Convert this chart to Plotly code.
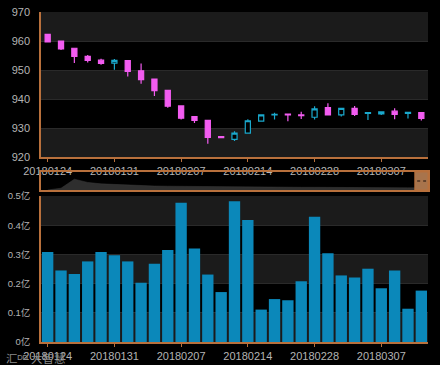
import plotly.graph_objects as go

dates = ["20180124","20180125","20180126","20180129","20180130","20180131",
         "20180201","20180202","20180205","20180206","20180207",
         "20180208","20180209","20180212","20180213","20180214",
         "20180222","20180223","20180226","20180227","20180228",
         "20180301","20180302","20180305","20180306","20180307",
         "20180308","20180309","20180312"]
open_ = [962.3, 960.0, 957.5, 954.7, 953.4, 952.4, 953.2, 949.7, 946.9, 943.0, 937.6,
         933.9, 932.6, 927.0, 926.1, 928.2, 932.4, 934.5, 934.8, 934.5, 933.7,
         937.0, 934.5, 936.8, 935.0, 934.9, 935.8, 935.0, 935.3]
high = [962.3, 960.0, 957.5, 955.2, 953.9, 953.8, 953.2, 952.2, 946.9, 943.0, 937.6,
        933.9, 932.6, 927.2, 928.9, 933.0, 934.5, 935.3, 934.8, 935.6, 937.5,
        938.5, 936.8, 937.6, 935.3, 935.6, 936.8, 935.4, 935.3]
low = [959.7, 956.9, 952.4, 952.6, 951.8, 950.1, 947.8, 945.3, 941.0, 937.0, 932.9,
       931.7, 924.6, 926.5, 925.5, 928.2, 932.4, 932.9, 932.3, 933.1, 932.9,
       934.5, 934.0, 934.1, 932.8, 934.5, 933.0, 933.3, 932.6]
close = [959.7, 957.3, 954.7, 953.3, 952.3, 953.3, 949.5, 946.7, 942.9, 937.5, 933.4,
         932.6, 926.8, 926.7, 928.2, 932.5, 934.5, 934.7, 934.5, 934.3, 936.6,
         934.5, 936.8, 934.7, 935.3, 935.6, 934.7, 935.4, 933.3]
volume = [0.308, 0.245, 0.233, 0.276, 0.308, 0.297, 0.276, 0.203, 0.268, 0.315, 0.477,
          0.320, 0.231, 0.171, 0.482, 0.418, 0.111, 0.147, 0.143, 0.208, 0.429,
          0.304, 0.228, 0.221, 0.251, 0.184, 0.245, 0.114, 0.176]
nav_values = [0, 1.0, 6.0, 4.2, 3.4, 3.0, 2.7, 2.4, 2.2, 2.1, 2.0, 1.9, 1.8, 1.8, 1.7,
              1.7, 1.6, 1.6, 1.5, 1.5, 1.5, 1.4, 1.4, 1.4, 1.3, 1.3, 1.3, 1.2, 1.2]
price_ticks = [920, 930, 940, 950, 960, 970]
vol_ticks = [0, 0.1, 0.2, 0.3, 0.4, 0.5]
vol_ticktext = ["0亿", "0.1亿", "0.2亿", "0.3亿", "0.4亿", "0.5亿"]
label_idx = [0, 5, 10, 15, 20, 25]

ORANGE = "#b8703c"
LABEL = "#b4b4b4"
BAND = "#1b1b1b"
GRID = "#2a2a2a"
FONT = "Arial, Liberation Sans, Noto Sans CJK SC, sans-serif"
xs = list(range(len(dates)))
xrange = [-0.5, len(dates) - 0.5]
tickvals = [xs[i] for i in label_idx]
ticktext = [dates[i] for i in label_idx]

fig = go.Figure()
fig.add_trace(go.Candlestick(
    x=xs, open=open_, high=high, low=low, close=close,
    increasing=dict(line=dict(color="#1aa8cc", width=1.2), fillcolor="#000000"),
    decreasing=dict(line=dict(color="#f25cf0", width=1.2), fillcolor="#f25cf0"),
    whiskerwidth=0, xaxis="x", yaxis="y", showlegend=False, hoverinfo="skip"))
fig.add_trace(go.Scatter(
    x=xs, y=nav_values, mode="lines", line=dict(color="#3a3a3a", width=0.5),
    fill="tozeroy", fillcolor="#2e2e2e", xaxis="x3", yaxis="y3", showlegend=False, hoverinfo="skip"))
fig.add_trace(go.Bar(
    x=xs, y=volume, marker=dict(color="#0b88ba", line=dict(width=0)),
    xaxis="x2", yaxis="y2", showlegend=False, hoverinfo="skip"))

shapes = []
for i, lo in enumerate(price_ticks[:-1]):
    if i % 2 == 0:
        shapes.append(dict(type="rect", xref="x domain", yref="y", x0=0, x1=1, y0=lo, y1=lo + 10,
                           fillcolor=BAND, line=dict(width=0), layer="below"))
for i, lo in enumerate(vol_ticks[:-1]):
    if i % 2 == 0:
        shapes.append(dict(type="rect", xref="x2 domain", yref="y2", x0=0, x1=1, y0=lo, y1=lo + 0.1,
                           fillcolor=BAND, line=dict(width=0), layer="below"))
# navigator handle
shapes.append(dict(type="rect", xref="paper", yref="paper", x0=0.966, x1=1.0, y0=0.4606, y1=0.5152,
                   fillcolor="#a8744c", line=dict(color=ORANGE, width=1)))
shapes.append(dict(type="line", xref="paper", yref="paper", x0=0.972, x1=0.995, y0=0.488, y1=0.488,
                   line=dict(color="#4a3020", width=1.5, dash="dot")))

axis_common = dict(showgrid=False, zeroline=False, linecolor=ORANGE, linewidth=1.5, showline=True,
                   automargin=False, tickfont=dict(color=LABEL, size=11, family=FONT))

fig.update_layout(
    width=440, height=365,
    margin=dict(l=41, r=12, t=12, b=23, autoexpand=False),
    paper_bgcolor="#000000", plot_bgcolor="#000000",
    boxgap=0.45, bargap=0.15,
    font=dict(family=FONT, color=LABEL),
    xaxis=dict(axis_common, domain=[0, 1], anchor="y", type="linear", range=xrange,
               tickvals=tickvals, ticktext=ticktext, ticks="outside", ticklen=3, tickcolor=ORANGE,
               rangeslider=dict(visible=False)),
    yaxis=dict(axis_common, domain=[0.5606, 1], anchor="x", range=[920, 970], tickvals=price_ticks,
               ticks="", ticklabelstandoff=7, showgrid=True, gridcolor=GRID, gridwidth=1),
    xaxis3=dict(domain=[0, 1], anchor="y3", range=xrange, showticklabels=False, showgrid=False,
                automargin=False, zeroline=False, showline=True, mirror=True, linecolor=ORANGE, linewidth=1.5),
    yaxis3=dict(domain=[0.4606, 0.5152], anchor="x3", range=[0, 10], showticklabels=False,
                automargin=False, showgrid=False, zeroline=False, showline=True, mirror=True,
                linecolor=ORANGE, linewidth=1.5),
    xaxis2=dict(axis_common, domain=[0, 1], anchor="y2", range=xrange,
                tickvals=tickvals, ticktext=ticktext, ticks="outside", ticklen=3, tickcolor=ORANGE),
    yaxis2=dict(axis_common, domain=[0, 0.4424], anchor="x2", range=[0, 0.5], tickvals=vol_ticks,
                ticktext=vol_ticktext, ticks="", ticklabelstandoff=7, showgrid=True,
                gridcolor=GRID, gridwidth=1,
                tickfont=dict(color=LABEL, size=9.5, family=FONT)),
    shapes=shapes,
    annotations=[dict(text="汇ᴰᴰ 大智慧", xref="paper", yref="paper", x=-0.095, y=-0.075,
                      xanchor="left", yanchor="bottom", showarrow=False,
                      font=dict(size=11.5, color="#8a8a8a", family=FONT))],
)
fig.write_html("out.html", config={"displayModeBar": False},
               post_script="document.body.style.margin='0';document.body.style.overflow='hidden';")
